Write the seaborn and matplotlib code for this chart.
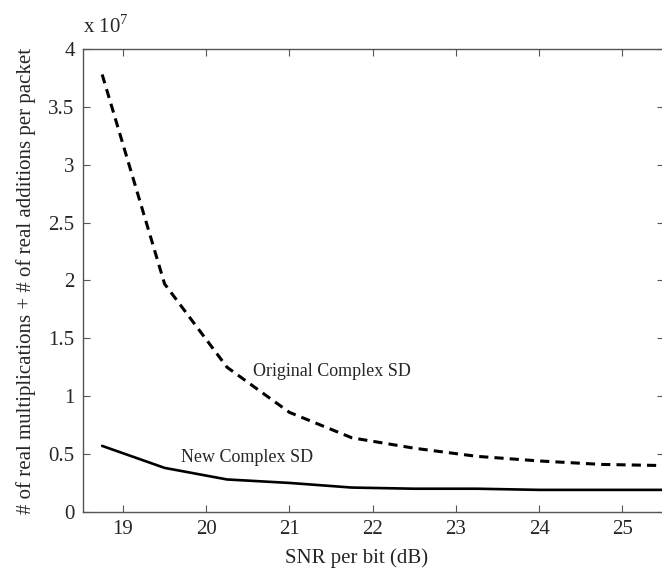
import matplotlib
matplotlib.use('Agg')
import matplotlib.pyplot as plt
import seaborn as sns
import pandas as pd

# SNR per bit (dB) and complexity (x 10^7)
snr = [18.75, 19.5, 20.25, 21.0, 21.75, 22.5, 23.25, 24.0, 24.75, 25.5]
original_sd = [3.78, 1.97, 1.25, 0.86, 0.64, 0.55, 0.48, 0.44, 0.41, 0.40]
new_sd = [0.57, 0.38, 0.28, 0.25, 0.21, 0.20, 0.20, 0.19, 0.19, 0.19]

df = pd.DataFrame({'snr': snr, 'orig': original_sd, 'new': new_sd})

sns.set_style('ticks')
plt.rcParams['font.family'] = ['Liberation Serif', 'DejaVu Serif']
plt.rcParams['mathtext.fontset'] = 'custom'
plt.rcParams['mathtext.rm'] = 'Liberation Serif'

fig = plt.figure(figsize=(6.62, 5.70), dpi=100)
# right edge of the box sits just outside the picture, as in the original
ax = fig.add_axes([0.1254, 0.102, 0.8776, 0.812])

sns.lineplot(data=df, x='snr', y='orig', ax=ax, color='black', lw=2.2,
             linestyle=(0, (3.0, 2.0)))
sns.lineplot(data=df, x='snr', y='new', ax=ax, color='black', lw=1.9)

ax.set_xlim(18.52, 25.5)
ax.set_ylim(0, 4)
ax.set_xticks(range(19, 26))
ax.set_yticks([0, 0.5, 1, 1.5, 2, 2.5, 3, 3.5, 4])
ax.set_yticklabels(['0', '0.5', '1', '1.5', '2', '2.5', '3', '3.5', '4'])
ax.tick_params(direction='in', length=5, top=True, right=True, labelsize=15,
               color='#555555', pad=6)
for s in ax.spines.values():
    s.set_color('#555555')
    s.set_linewidth(1.0)

ax.set_xlabel('SNR per bit (dB)', fontsize=15)
ax.xaxis.set_label_coords(0.47, -0.078)
ax.set_ylabel('# of real multiplications + # of real additions per packet',
              fontsize=15, labelpad=9)

ax.text(0.0, 1.025, r'x 10$^{7}$', transform=ax.transAxes, fontsize=15,
        ha='left', va='bottom')
ax.text(20.56, 1.21, 'Original Complex SD', fontsize=13, ha='left', va='center')
ax.text(19.70, 0.47, 'New Complex SD', fontsize=13, ha='left', va='center')

fig.savefig('out.png', dpi=100)
